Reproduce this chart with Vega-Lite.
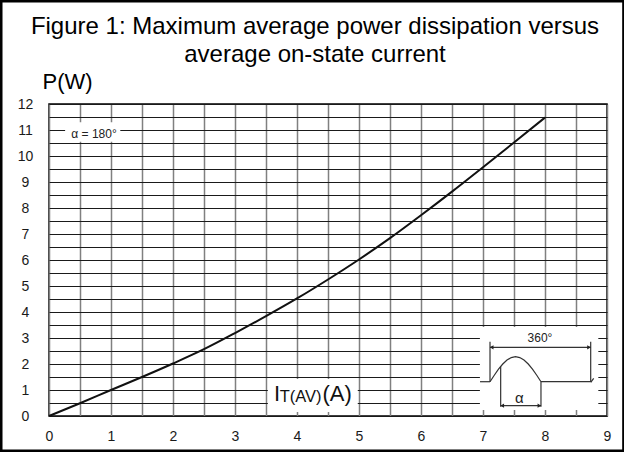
{
  "$schema": "https://vega.github.io/schema/vega-lite/v6.json",
  "width": 558,
  "height": 312,
  "autosize": {"type": "none"},
  "padding": {"left": 49, "top": 104, "right": 17, "bottom": 36},
  "background": "white",
  "config": {"view": {"stroke": "#000", "strokeWidth": 1.5}, "font": "Liberation Sans"},
  "title": {
    "text": ["Figure 1: Maximum average power dissipation versus", "average on-state current"],
    "fontSize": 24, "font": "Liberation Sans", "fontWeight": "normal", "color": "#000",
    "anchor": "middle", "frame": "group", "dx": -13, "offset": -67, "lineHeight": 28
  },
  "datasets": {
    "curve": [
      {"x": 0, "y": 0}, {"x": 0.5, "y": 0.49}, {"x": 1, "y": 1.0}, {"x": 1.5, "y": 1.5},
      {"x": 2, "y": 2.02}, {"x": 2.5, "y": 2.57}, {"x": 3, "y": 3.19}, {"x": 3.5, "y": 3.84},
      {"x": 4, "y": 4.52}, {"x": 4.5, "y": 5.25}, {"x": 5, "y": 6.02}, {"x": 5.5, "y": 6.84},
      {"x": 6, "y": 7.72}, {"x": 6.5, "y": 8.63}, {"x": 7, "y": 9.57}, {"x": 7.5, "y": 10.52},
      {"x": 8, "y": 11.48}
    ],
    "boxes": [
      {"x": 0.26, "x2": 1.15, "y": 10.55, "y2": 11.3},
      {"x": 3.53, "x2": 4.98, "y": 0.15, "y2": 1.42},
      {"x": 6.95, "x2": 8.86, "y": 0.23, "y2": 3.42}
    ],
    "inset": [
      {"seg": "a", "o": 0, "x": 6.952, "y": 1.319}, {"seg": "a", "o": 1, "x": 7.113, "y": 1.319},
      {"seg": "sine", "o": 0, "x": 7.113, "y": 1.319}, {"seg": "sine", "o": 1, "x": 7.182, "y": 1.568},
      {"seg": "sine", "o": 2, "x": 7.250, "y": 1.800}, {"seg": "sine", "o": 3, "x": 7.319, "y": 1.999},
      {"seg": "sine", "o": 4, "x": 7.387, "y": 2.152}, {"seg": "sine", "o": 5, "x": 7.456, "y": 2.248},
      {"seg": "sine", "o": 6, "x": 7.524, "y": 2.281}, {"seg": "sine", "o": 7, "x": 7.593, "y": 2.248},
      {"seg": "sine", "o": 8, "x": 7.661, "y": 2.152}, {"seg": "sine", "o": 9, "x": 7.730, "y": 1.999},
      {"seg": "sine", "o": 10, "x": 7.798, "y": 1.800}, {"seg": "sine", "o": 11, "x": 7.867, "y": 1.568},
      {"seg": "sine", "o": 12, "x": 7.935, "y": 1.319},
      {"seg": "m1", "o": 0, "x": 7.113, "y": 2.858}, {"seg": "m1", "o": 1, "x": 7.113, "y": 1.319},
      {"seg": "m2", "o": 0, "x": 7.285, "y": 1.907}, {"seg": "m2", "o": 1, "x": 7.285, "y": 0.358},
      {"seg": "m3", "o": 0, "x": 7.935, "y": 1.319}, {"seg": "m3", "o": 1, "x": 7.935, "y": 0.358},
      {"seg": "b", "o": 0, "x": 7.935, "y": 1.319}, {"seg": "b", "o": 1, "x": 8.753, "y": 1.319},
      {"seg": "m4", "o": 0, "x": 8.737, "y": 2.858}, {"seg": "m4", "o": 1, "x": 8.737, "y": 1.35},
      {"seg": "s", "o": 0, "x": 8.74, "y": 1.30}, {"seg": "s", "o": 1, "x": 8.785, "y": 1.45},
      {"seg": "ar1", "o": 0, "x": 7.113, "y": 2.642}, {"seg": "ar1", "o": 1, "x": 8.737, "y": 2.642},
      {"seg": "ar2", "o": 0, "x": 7.285, "y": 0.396}, {"seg": "ar2", "o": 1, "x": 7.935, "y": 0.396}
    ],
    "arrows": [
      {"x": 7.14, "y": 2.642, "dir": "left"}, {"x": 8.71, "y": 2.642, "dir": "right"},
      {"x": 7.31, "y": 0.396, "dir": "left"}, {"x": 7.91, "y": 0.396, "dir": "right"}
    ],
    "notes": [
      {"id": "alpha180", "x": 0.726, "y": 10.86, "text": "α = 180°"},
      {"id": "i", "x": 3.629, "y": 0.58, "text": "I"},
      {"id": "sub", "x": 3.72, "y": 0.55, "text": "T(AV)"},
      {"id": "unit", "x": 4.41, "y": 0.58, "text": "(A)"},
      {"id": "deg", "x": 7.919, "y": 3.0, "text": "360°"},
      {"id": "alpha", "x": 7.585, "y": 0.69, "text": "α"}
    ]
  },
  "layer": [
    {
      "encoding": {
        "x": {
          "field": "x", "type": "quantitative",
          "scale": {"domain": [0, 9], "nice": false, "zero": false},
          "axis": {
            "title": null,
            "values": [0, 0.5, 1, 1.5, 2, 2.5, 3, 3.5, 4, 4.5, 5, 5.5, 6, 6.5, 7, 7.5, 8, 8.5, 9],
            "labelExpr": "datum.value % 1 === 0 ? format(datum.value, 'd') : ''",
            "labelOverlap": false, "labelFlush": false,
            "labelFontSize": 14, "labelColor": "#1a1a1a", "labelFont": "Liberation Sans",
            "labelBaseline": "middle", "labelPadding": 20,
            "ticks": false, "tickSize": 0, "domain": false,
            "grid": true, "gridColor": "#808080", "gridWidth": 1.5
          }
        },
        "y": {
          "field": "y", "type": "quantitative",
          "scale": {"domain": [0, 12], "nice": false, "zero": false},
          "axis": {
            "title": "P(W)", "titleAngle": 0, "titleAlign": "left", "titleBaseline": "alphabetic",
            "titleX": -7, "titleY": -16, "titleFontSize": 22, "titleFontWeight": "normal",
            "titleColor": "#000", "titleFont": "Liberation Sans",
            "values": [0, 0.5, 1, 1.5, 2, 2.5, 3, 3.5, 4, 4.5, 5, 5.5, 6, 6.5, 7, 7.5, 8, 8.5, 9, 9.5, 10, 10.5, 11, 11.5, 12],
            "labelExpr": "datum.value % 1 === 0 ? format(datum.value, 'd') : ''",
            "labelOverlap": false, "labelFlush": false,
            "labelFontSize": 14, "labelColor": "#1a1a1a", "labelFont": "Liberation Sans",
            "labelAlign": "center", "labelBaseline": "middle", "labelPadding": 24,
            "ticks": false, "tickSize": 0, "domain": false,
            "grid": true, "gridColor": "#1a1a1a", "gridWidth": 1
          }
        }
      },
      "layer": [
        {
          "data": {"name": "boxes"},
          "mark": {"type": "rect", "fill": "white", "strokeWidth": 0},
          "encoding": {"x2": {"field": "x2"}, "y2": {"field": "y2"}}
        },
        {
          "data": {"name": "curve"},
          "mark": {"type": "line", "color": "#111", "strokeWidth": 2, "interpolate": "monotone"},
          "encoding": {}
        },
        {
          "data": {"name": "inset"},
          "mark": {"type": "line", "color": "#333", "strokeWidth": 1.2},
          "encoding": {"detail": {"field": "seg"}, "order": {"field": "o", "type": "quantitative"}}
        },
        {
          "data": {"name": "arrows"},
          "mark": {"type": "point", "filled": true, "color": "#222", "size": 18, "opacity": 1},
          "encoding": {
            "shape": {"field": "dir", "type": "nominal", "scale": {"domain": ["left", "right"], "range": ["triangle-left", "triangle-right"]}, "legend": null}
          }
        },
        {
          "data": {"name": "notes"},
          "transform": [{"filter": {"field": "id", "equal": "alpha180"}}],
          "mark": {"type": "text", "fontSize": 12, "align": "center", "baseline": "middle", "color": "#222"},
          "encoding": {"text": {"field": "text"}}
        },
        {
          "data": {"name": "notes"},
          "transform": [{"filter": {"field": "id", "oneOf": ["i", "unit"]}}],
          "mark": {"type": "text", "fontSize": 22, "align": "left", "baseline": "alphabetic", "color": "#111"},
          "encoding": {"text": {"field": "text"}}
        },
        {
          "data": {"name": "notes"},
          "transform": [{"filter": {"field": "id", "equal": "sub"}}],
          "mark": {"type": "text", "fontSize": 16.5, "align": "left", "baseline": "alphabetic", "color": "#111"},
          "encoding": {"text": {"field": "text"}}
        },
        {
          "data": {"name": "notes"},
          "transform": [{"filter": {"field": "id", "equal": "deg"}}],
          "mark": {"type": "text", "fontSize": 12, "align": "center", "baseline": "middle", "color": "#222"},
          "encoding": {"text": {"field": "text"}}
        },
        {
          "data": {"name": "notes"},
          "transform": [{"filter": {"field": "id", "equal": "alpha"}}],
          "mark": {"type": "text", "fontSize": 15, "align": "center", "baseline": "middle", "color": "#222"},
          "encoding": {"text": {"field": "text"}}
        }
      ]
    },
    {
      "data": {"values": [{"frame": "outer"}]},
      "mark": {"type": "rect", "fill": "transparent", "stroke": "#000", "strokeWidth": 2.5, "clip": false},
      "encoding": {
        "x": {
          "datum": -0.77, "type": "quantitative",
          "scale": {"domain": [0, 9], "nice": false, "zero": false},
          "axis": {
            "title": null,
            "values": [0, 0.5, 1, 1.5, 2, 2.5, 3, 3.5, 4, 4.5, 5, 5.5, 6, 6.5, 7, 7.5, 8, 8.5, 9],
            "labelExpr": "datum.value % 1 === 0 ? format(datum.value, 'd') : ''",
            "labelOverlap": false, "labelFlush": false,
            "labelFontSize": 14, "labelColor": "#1a1a1a", "labelFont": "Liberation Sans",
            "labelBaseline": "middle", "labelPadding": 20,
            "ticks": false, "tickSize": 0, "domain": false,
            "grid": true, "gridColor": "#808080", "gridWidth": 1.5
          }
        },
        "x2": {"datum": 9.265},
        "y": {
          "datum": 15.95, "type": "quantitative",
          "scale": {"domain": [0, 12], "nice": false, "zero": false},
          "axis": {
            "title": "P(W)", "titleAngle": 0, "titleAlign": "left", "titleBaseline": "alphabetic",
            "titleX": -7, "titleY": -16, "titleFontSize": 22, "titleFontWeight": "normal",
            "titleColor": "#000", "titleFont": "Liberation Sans",
            "values": [0, 0.5, 1, 1.5, 2, 2.5, 3, 3.5, 4, 4.5, 5, 5.5, 6, 6.5, 7, 7.5, 8, 8.5, 9, 9.5, 10, 10.5, 11, 11.5, 12],
            "labelExpr": "datum.value % 1 === 0 ? format(datum.value, 'd') : ''",
            "labelOverlap": false, "labelFlush": false,
            "labelFontSize": 14, "labelColor": "#1a1a1a", "labelFont": "Liberation Sans",
            "labelAlign": "center", "labelBaseline": "middle", "labelPadding": 24,
            "ticks": false, "tickSize": 0, "domain": false,
            "grid": true, "gridColor": "#1a1a1a", "gridWidth": 1
          }
        },
        "y2": {"datum": -1.335}
      }
    }
  ]
}
